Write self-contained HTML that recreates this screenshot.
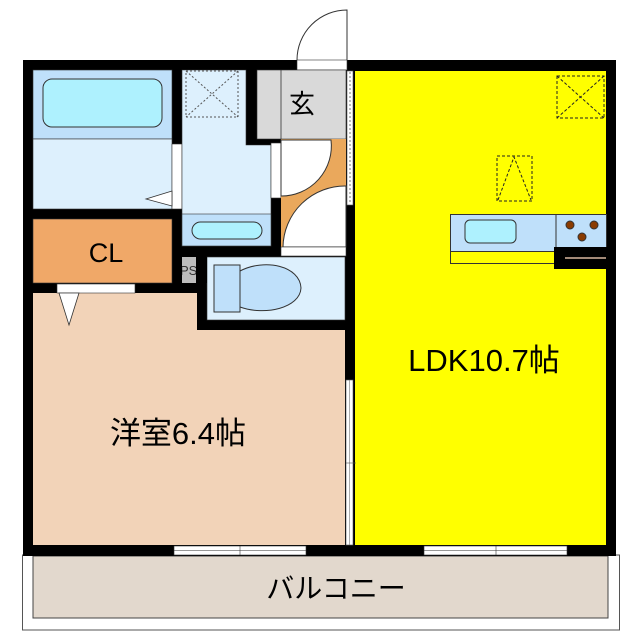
<!DOCTYPE html>
<html><head><meta charset="utf-8"><style>body{margin:0;background:#fff}svg{display:block}</style></head><body>
<svg width="640" height="640" viewBox="0 0 640 640" xmlns="http://www.w3.org/2000/svg" font-family="Liberation Sans, Noto Sans CJK JP, sans-serif">
<rect x="22.5" y="555" width="597" height="75" fill="#fff" stroke="#555"/>
<rect x="33" y="556" width="575" height="62" fill="#e2d8cd" stroke="#444"/>
<text x="336" y="598" font-size="28" text-anchor="middle">バルコニー</text>
<path d="M347 60 L347 10 A50 50 0 0 0 297 60" fill="none" stroke="#333"/>
<rect x="23" y="60" width="593" height="496" fill="#000"/>
<rect x="297" y="60" width="50" height="10" fill="#fff" stroke="#333" stroke-width="0.6"/>
<rect x="355" y="71" width="251" height="474" fill="#ffff00"/>
<rect x="347" y="71" width="6" height="134" fill="#fff" stroke="#555" stroke-width="0.6"/>
<line x1="350" y1="72" x2="350" y2="204" stroke="#777" stroke-dasharray="2,2"/>
<rect x="557" y="76" width="47" height="42" fill="none" stroke="#222" stroke-dasharray="3,2"/>
<path d="M557 76 L604 118 M604 76 L557 118" stroke="#222" stroke-dasharray="3,2"/>
<rect x="497" y="156" width="35" height="45" fill="none" stroke="#222" stroke-dasharray="3,2"/>
<path d="M498 200 L514 157 L531 200" fill="none" stroke="#222" stroke-dasharray="3,2"/>
<rect x="450.5" y="214.5" width="156" height="37" fill="#bfe0fa" stroke="#333"/>
<line x1="556" y1="214" x2="556" y2="251" stroke="#333"/>
<rect x="465" y="220" width="51" height="23" rx="5" fill="#aef1fe" stroke="#333"/>
<circle cx="570" cy="225" r="4" fill="#8a3b00" stroke="#333"/><circle cx="594" cy="225" r="4" fill="#8a3b00" stroke="#333"/><circle cx="582" cy="237" r="4" fill="#8a3b00" stroke="#333"/>
<rect x="450.5" y="251.5" width="104" height="12" fill="#ffff00" stroke="#333"/>
<rect x="554" y="247" width="53" height="22" fill="#000"/>
<line x1="565" y1="258" x2="606" y2="258" stroke="#d9b8a0" stroke-width="1.5"/>
<text x="484" y="371" font-size="31" text-anchor="middle">LDK10.7帖</text>
<rect x="33" y="70" width="139" height="69" fill="#bfe0fa" stroke="#333" stroke-width="0.6"/>
<rect x="43" y="79" width="119" height="48" rx="9" fill="#aef1fe" stroke="#333"/>
<rect x="33" y="139" width="139" height="70" fill="#ddf0fd" stroke="#333" stroke-width="0.6"/>
<rect x="172" y="144" width="10" height="65" fill="#fff" stroke="#333" stroke-width="0.6"/>
<path d="M172 191 L146 199 L172 206 Z" fill="#fff" stroke="#333" stroke-width="0.8"/>
<path d="M182 70 H246 V145 H271 V246 H182 Z" fill="#ddf0fd" stroke="#333" stroke-width="0.6"/>
<rect x="186" y="71" width="52" height="46" fill="none" stroke="#555" stroke-dasharray="2,2"/>
<path d="M186 71 L238 117 M238 71 L186 117" stroke="#555" stroke-dasharray="2,2"/>
<rect x="182" y="214" width="89" height="32" fill="#bfe0fa" stroke="#333" stroke-width="0.6"/>
<rect x="192" y="222" width="70" height="17" rx="8.5" fill="#aef1fe" stroke="#333"/>
<rect x="271" y="143" width="10" height="55" fill="#fff" stroke="#333" stroke-width="0.6"/>
<rect x="257" y="70" width="89" height="69" fill="#d9d9d9" stroke="#333" stroke-width="0.6"/>
<line x1="281" y1="70" x2="281" y2="139" stroke="#333" stroke-width="0.8"/>
<text x="302" y="113" font-size="26" text-anchor="middle">玄</text>
<rect x="281" y="139" width="65" height="108" fill="#eaa85c"/>
<path d="M281 140 H331 A50 50 0 0 1 281 196 Z" fill="#fff" stroke="#333"/>
<path d="M346 247 V186 A62 62 0 0 0 283 247 Z" fill="#fff" stroke="#333"/>
<rect x="281" y="247" width="65" height="9" fill="#fff" stroke="#333" stroke-width="0.6"/>
<rect x="207" y="257" width="138" height="63" fill="#ddf0fd" stroke="#333" stroke-width="0.6"/>
<rect x="214" y="265" width="26" height="47" fill="#bfe0fa" stroke="#333"/>
<path d="M240 271 C265 258 300 266 301 288 C300 308 265 316 240 307 Z" fill="#bfe0fa" stroke="#333"/>
<rect x="182" y="257" width="14" height="26" fill="#bdbdbd"/>
<text x="180" y="275" font-size="13" fill="#333">PS</text>
<rect x="172" y="257" width="10" height="26" fill="#000"/>
<rect x="196" y="257" width="11" height="26" fill="#000"/>
<rect x="33" y="219" width="139" height="64" fill="#f0a868" stroke="#333" stroke-width="0.6"/>
<text x="106" y="262" font-size="27" text-anchor="middle">CL</text>
<path d="M33 293 H197 V330 H345 V545 H33 Z" fill="#f2d3b8"/>
<rect x="57" y="284" width="78" height="9" fill="#fff" stroke="#333" stroke-width="0.6"/>
<path d="M59 293 L69 325 L79 293 Z" fill="#fff" stroke="#333" stroke-width="0.8"/>
<text x="178" y="444" font-size="31" text-anchor="middle">洋室6.4帖</text>
<rect x="346" y="380" width="7" height="165" fill="#fff" stroke="#555" stroke-width="0.6"/>
<line x1="349.5" y1="380" x2="349.5" y2="545" stroke="#777" stroke-width="0.6"/>
<line x1="346" y1="463" x2="356" y2="463" stroke="#555" stroke-width="0.6"/>
<rect x="174" y="546" width="132" height="9" fill="#fff" stroke="#333" stroke-width="0.6"/>
<line x1="174" y1="550.5" x2="306" y2="550.5" stroke="#333" stroke-width="0.6"/>
<line x1="240" y1="546" x2="240" y2="555" stroke="#333" stroke-width="0.6"/>
<rect x="424" y="546" width="143" height="9" fill="#fff" stroke="#333" stroke-width="0.6"/>
<line x1="424" y1="550.5" x2="567" y2="550.5" stroke="#333" stroke-width="0.6"/>
<line x1="496" y1="546" x2="496" y2="555" stroke="#333" stroke-width="0.6"/>
</svg>
</body></html>
